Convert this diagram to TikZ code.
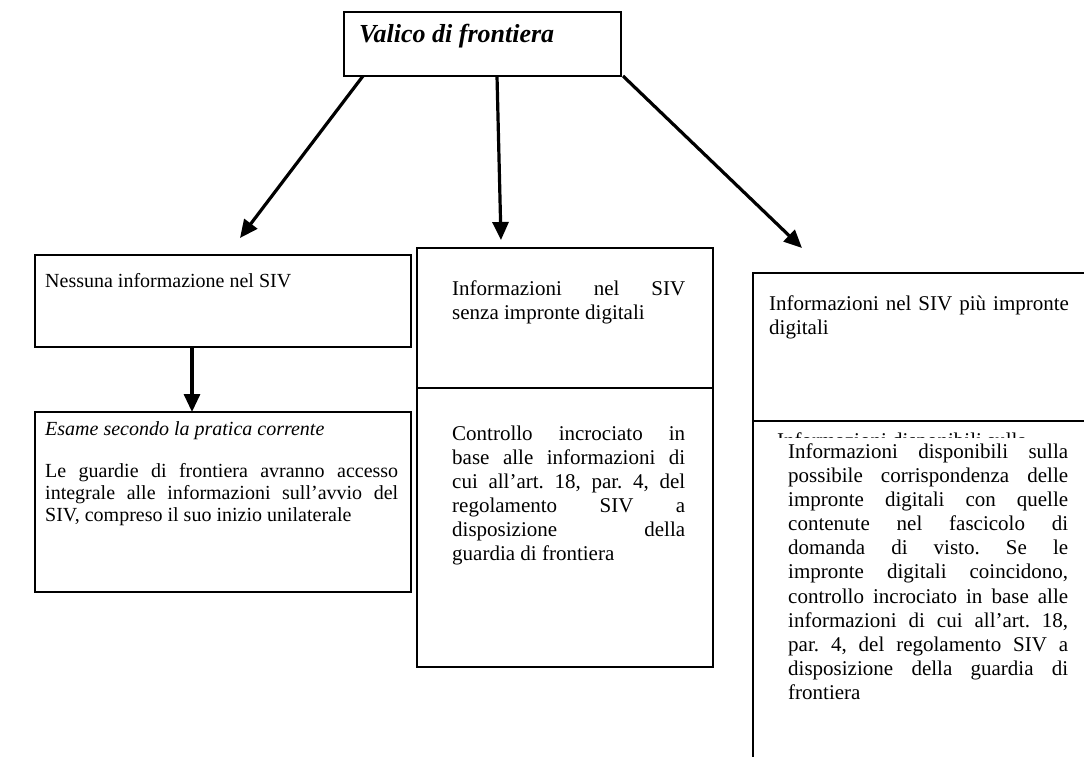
\documentclass[tikz,border=0pt]{standalone}
\usepackage{fontspec}
\setmainfont{Liberation Serif}
\usetikzlibrary{arrows.meta,positioning}
\hbadness=10000
\hyphenpenalty=10000
\exhyphenpenalty=10000
\frenchspacing

\begin{document}
\begin{tikzpicture}[x=1pt,y=-1pt,
  box/.style={draw,line width=1.6pt,inner sep=0pt,outer sep=0pt,anchor=north west},
  txt/.style={inner sep=0pt,anchor=north west,align=justify,font=\fontsize{21}{24.15}\selectfont},
  ltxt/.style={txt,font=\fontsize{20}{22}\selectfont},
  arr/.style={line width=3.2pt,-{Triangle[length=18pt,width=16pt]}}]
\useasboundingbox (0,0) rectangle (1084,757);

% title
\node[box,minimum width=277pt,minimum height=64pt] (vf) at (344,12) {};
\node[inner sep=0pt,anchor=base west,font=\fontsize{26}{30}\selectfont\bfseries\itshape] (vft) at (359,43) {Valico di frontiera};

% left column
\node[box,minimum width=376pt,minimum height=92pt] (n1) at (35,255) {};
\node[box,minimum width=376pt,minimum height=180pt,below=65pt of n1] (n2) {};
\node[ltxt,text width=300pt] (n1t) at (45,271.6) {\strut Nessuna informazione nel SIV};
\node[ltxt,text width=353pt] (n2t) at (45,419.6) {\strut\textit{Esame secondo la pratica corrente}\par\vspace{20pt}%
  \strut Le guardie di frontiera avranno accesso\linebreak integrale alle informazioni sull'avvio del\linebreak SIV, compreso il suo inizio unilaterale};

% middle column
\node[box,minimum width=296pt,minimum height=140pt] (m1) at (417,248) {};
\node[box,minimum width=296pt,minimum height=279pt,below=0pt of m1] (m2) {};
\node[txt,text width=233pt] (m1t) at (452,278) {\strut Informazioni nel SIV\linebreak senza impronte digitali};
\node[txt,text width=233pt] (m2t) at (452,423) {\strut Controllo incrociato in\linebreak base alle informazioni di\linebreak cui all'art.~18, par.~4, del\linebreak regolamento SIV a\linebreak disposizione della\linebreak guardia di frontiera};

% right column
\node[box,minimum width=360pt,minimum height=148pt] (r1) at (753,273) {};
\node[box,minimum width=360pt,minimum height=360pt,below=0pt of r1] (r2) {};
\node[txt,text width=320pt,align=left] (r1t) at (769,293) {\strut Informazioni nel SIV più impronte\\ digitali};
\begin{scope}
  \clip (754,422) rectangle (1084,437);
  \node[inner sep=0pt,anchor=base west,font=\fontsize{21}{24.15}\selectfont] (r2g) at (777,447) {Informazioni disponibili sulla};
\end{scope}
\node[txt,text width=280pt] (r2t) at (788,441) {\strut Informazioni disponibili sulla\linebreak possibile corrispondenza delle\linebreak impronte digitali con quelle\linebreak contenute nel fascicolo di\linebreak domanda di visto. Se le\linebreak impronte digitali coincidono,\linebreak controllo incrociato in base alle\linebreak informazioni di cui all'art.~18,\linebreak par.~4, del regolamento SIV a\linebreak disposizione della guardia di\linebreak frontiera};

% arrows
\coordinate (t1) at (240,238);
\coordinate (t2) at (501,240);
\coordinate (t3) at (802,248);
\draw[arr] ([xshift=19pt]vf.south west) -- (t1);
\draw[arr] ([xshift=153pt]vf.south west) -- (t2);
\draw[arr] ([xshift=2pt]vf.south east) -- (t3);
\draw[arr] (n1.south west -| 192,0) -- (n2.north west -| 192,0);
\end{tikzpicture}
\end{document}
